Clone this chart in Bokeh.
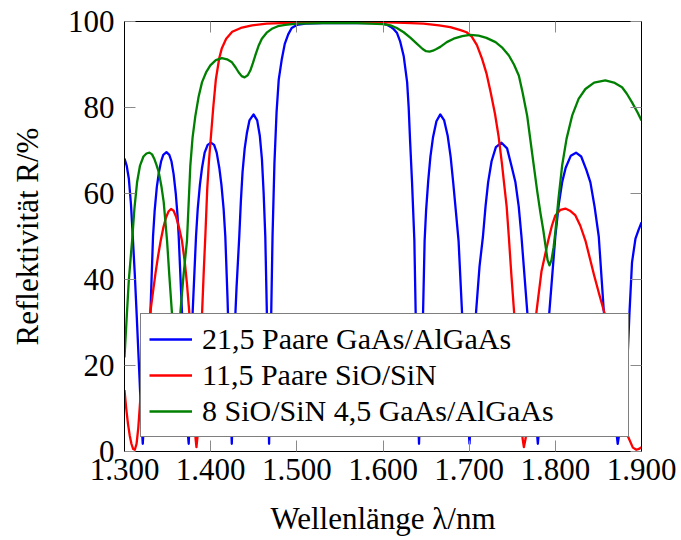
from bokeh.plotting import figure
from bokeh.models import LinearAxis, FixedTicker, Legend, LegendItem, Range1d
from bokeh.embed import file_html
from bokeh.resources import INLINE

# ---- data (wavelength nm, reflectivity %) ----
blue_pts = [(1300,68.1),(1302.5,66.5),(1305,63.5),(1307.5,57.5),(1309.6,50),(1312,41),(1314,32.4),(1317,19),(1319.5,7.5),(1321.2,1.8),(1323,8),(1326,20),(1330.1,32.4),(1333.1,50),(1335,56),(1337.5,61.5),(1340,65),(1342.5,67.5),(1345,69),(1348.7,69.6),(1352,69),(1354.5,67.5),(1357,64.5),(1359.5,60),(1361.5,55),(1362.9,50),(1366.7,32.4),(1370,17),(1373,5.5),(1374.5,1.8),(1376,9),(1377.5,20),(1379.1,32.4),(1383,50),(1385,56.5),(1387.5,62),(1390,66),(1393,69.5),(1396.5,71.3),(1400.3,71.8),(1404,71.3),(1407,69.5),(1410,66),(1412.5,62),(1415,56.5),(1417,50),(1419.5,36),(1422,19),(1423.5,8),(1424.5,1.8),(1425.8,10),(1427.8,28),(1430,38),(1433.2,50),(1435,58),(1437,65),(1439.5,70.5),(1442,74),(1445,77),(1449.8,78.4),(1454,77),(1457,73.5),(1459.5,68),(1461.5,60),(1463.4,50),(1465.2,32.4),(1466.8,12),(1467.8,1.8),(1468.8,12),(1470.3,32.4),(1471.8,50),(1474,67),(1476.5,79),(1479,86.5),(1482.6,91.3),(1486,94.8),(1490,97),(1494,98.5),(1500,99.2),(1510,99.5),(1530,99.6),(1560,99.6),(1590,99.6),(1600,99.5),(1605,99.2),(1608.6,98.8),(1612,98.3),(1616.3,97.3),(1620,95.3),(1624,92),(1628,85.9),(1629.8,80),(1631.5,72),(1633.7,62.6),(1636.4,49),(1637.9,32.4),(1640,12),(1641.8,1.8),(1643.5,12),(1646.5,32.4),(1648.3,49),(1650,56),(1652.5,63),(1655,68.5),(1658,73),(1662,76.8),(1666.5,78.4),(1671,77),(1675,73.5),(1678.5,68.5),(1681.5,62.5),(1684.5,56),(1687.7,49),(1691.7,32.4),(1696,16),(1700.4,1.8),(1704,16),(1708,32.4),(1712,43),(1716,50),(1719,57),(1722,62.6),(1726,67.5),(1731,70.8),(1737.5,71.8),(1744,70.5),(1749,66.5),(1753.7,62.6),(1757.5,57),(1760.7,50),(1767.3,32.8),(1774,16),(1779.7,1.8),(1786,16),(1793.2,32.8),(1800,50),(1804,57.5),(1807.9,62.6),(1812,66),(1818,68.8),(1824,69.5),(1830,68.6),(1836,65.5),(1840.7,62.6),(1845.5,57),(1850.4,50),(1856.2,32.8),(1864,17),(1872.4,1.8),(1878,9),(1883.2,18.8),(1886,32),(1889,44),(1893,49.5),(1896.5,51.5),(1900,53.3)]

red_pts = [(1300,14.3),(1302,10),(1304,6.5),(1306,3.8),(1308,1.8),(1310,0.6),(1312,0.4),(1314,1.8),(1316,5.5),(1318.5,12.6),(1321,17.5),(1324,23),(1327,28),(1330,32.4),(1333,37),(1336,41.5),(1339,45.5),(1342,49),(1345,52),(1348,54.3),(1351,55.8),(1354,56.4),(1357,56),(1360,54.5),(1363,52.3),(1366.7,49),(1370,44),(1372.5,39),(1375,32.8),(1378,23),(1380.5,12),(1382.5,3),(1383.5,1),(1385,4),(1387.5,18),(1390,32),(1392,42),(1394,51),(1396,61),(1398,67.5),(1400,72.5),(1403,80),(1406,86.5),(1410,91.5),(1413,93.8),(1418,96),(1425,97.6),(1435,98.5),(1448,99.1),(1465,99.5),(1490,99.7),(1550,99.8),(1605,99.8),(1625,99.7),(1647,99.5),(1665,99.1),(1678,98.7),(1690,98),(1697,97.5),(1703,96.5),(1709,94.5),(1715,91.3),(1720,88),(1725,83.5),(1730,78.5),(1734,73.5),(1738,67),(1741,61.5),(1743.5,57),(1746,50),(1749,41),(1752,32.8),(1756,20),(1759.5,9),(1762,3),(1763.5,1),(1765.5,3),(1768,8),(1772,17),(1777.8,32),(1784,42),(1791.7,49),(1796,52.5),(1800,54.9),(1806,56.2),(1811.7,56.5),(1817,56),(1823.3,54.9),(1829,52.5),(1835,49),(1840,45),(1845,41),(1851,36.5),(1858,31.5),(1866,22),(1875,11.5),(1880,6.5),(1884.7,3.3),(1890,0.9),(1894,0.4),(1897,0.6),(1900,1.0)]

green_pts = [(1300,21.9),(1302.5,31),(1305,39.8),(1308.8,49),(1311.5,56.5),(1314.6,62.6),(1318,66.5),(1322,68.6),(1325.5,69.3),(1329,69.5),(1332,69.1),(1334.5,68.1),(1337,66.7),(1339.7,65),(1343,61.5),(1345.5,58),(1349.4,49),(1352,41),(1355,32.4),(1357.5,20),(1360,11),(1362.5,18),(1364.9,32.4),(1368.5,41),(1372.5,49),(1376.4,66.5),(1379,73),(1382.2,78),(1386,82.5),(1390,85.9),(1395,88.3),(1399.6,89.8),(1406,91),(1413,91.5),(1419,91.2),(1424.7,90.5),(1429,89.3),(1432.4,88.2),(1436,87.3),(1439.4,87),(1443,87.5),(1446,88.6),(1449,90.3),(1451.8,92.1),(1455.5,94.3),(1459.4,96),(1465,97.4),(1471,98.3),(1478,98.9),(1486.5,99.2),(1500,99.5),(1530,99.6),(1570,99.6),(1600,99.4),(1608.6,99.1),(1616,98.5),(1624,97.5),(1632,96.2),(1639.5,94.8),(1646,93.6),(1650,93.1),(1654,93),(1658,93.2),(1662,93.6),(1666.5,94.1),(1674,95.2),(1682,96),(1692,96.6),(1701,96.9),(1711,96.7),(1720,96.2),(1730.6,95.2),(1738,94),(1746.1,92.1),(1752,90),(1757.7,87.4),(1762,83.5),(1767.3,78.1),(1771,72.5),(1775,66.5),(1779,60.5),(1782.7,55.5),(1786,51.5),(1788.5,48),(1791,44.5),(1793.2,43.3),(1795.5,44.5),(1798,47.5),(1800,51),(1803.5,58.5),(1807.9,66.5),(1813,72.7),(1819.5,78.1),(1827,82),(1834.9,84.3),(1845,85.8),(1858,86.3),(1868,85.8),(1877.4,84.7),(1883,83.2),(1889,81.2),(1895,79),(1900,77)]

blue_wl = [p[0] for p in blue_pts]
blue_r = [p[1] for p in blue_pts]
red_wl = [p[0] for p in red_pts]
red_r = [p[1] for p in red_pts]
green_wl = [p[0] for p in green_pts]
green_r = [p[1] for p in green_pts]

series_names = ["21,5 Paare GaAs/AlGaAs", "11,5 Paare SiO/SiN", "8 SiO/SiN 4,5 GaAs/AlGaAs"]
x_ticks = [1300, 1400, 1500, 1600, 1700, 1800, 1900]
x_tick_labels = ["1.300", "1.400", "1.500", "1.600", "1.700", "1.800", "1.900"]
y_ticks = [0, 20, 40, 60, 80, 100]
y_tick_labels = ["0", "20", "40", "60", "80", "100"]
x_label = "Wellenlänge λ/nm"
y_label = "Reflektivität R/%"

FONT = "Liberation Serif"
FS = "31px"
FS_LEG = "30px"

p = figure(width=681, height=540, output_backend="svg", toolbar_location=None,
           x_range=Range1d(1300, 1900), y_range=Range1d(0, 100),
           min_border_left=124, min_border_right=40, min_border_top=21, min_border_bottom=89)
p.xgrid.visible = False
p.ygrid.visible = False
p.outline_line_color = "black"
p.outline_line_width = 1
p.background_fill_color = "white"
p.border_fill_color = "white"

def style_axis(ax, ticks, labels, show_labels=True):
    ax.ticker = FixedTicker(ticks=ticks)
    if show_labels:
        ax.major_label_overrides = {t: l for t, l in zip(ticks, labels)}
        ax.major_label_text_font = FONT
        ax.major_label_text_font_size = FS
        ax.major_label_text_color = "black"
    else:
        ax.major_label_overrides = {t: "" for t in ticks}
        ax.major_label_text_font_size = "1px"
        ax.major_label_standoff = 0
    ax.major_tick_in = 11
    ax.major_tick_out = 0
    ax.major_tick_line_color = "#8a8a8a"
    ax.major_tick_line_width = 1
    ax.minor_tick_line_color = None
    ax.axis_line_color = "black"
    ax.axis_line_width = 1

xa = p.xaxis[0]
ya = p.yaxis[0]
style_axis(xa, x_ticks, x_tick_labels)
style_axis(ya, y_ticks, y_tick_labels)
xa.major_label_standoff = 7
ya.major_label_standoff = 10
xa.axis_label = x_label
ya.axis_label = y_label
for ax in (xa, ya):
    ax.axis_label_text_font = FONT
    ax.axis_label_text_font_size = FS
    ax.axis_label_text_font_style = "normal"
    ax.axis_label_text_color = "black"
xa.axis_label_standoff = 18
ya.axis_label_standoff = 20

top = LinearAxis()
style_axis(top, x_ticks, x_tick_labels, show_labels=False)
p.add_layout(top, "above")
right = LinearAxis()
style_axis(right, y_ticks, y_tick_labels, show_labels=False)
p.add_layout(right, "right")

lw = 2.3
rb = p.line(blue_wl, blue_r, line_color="#0000ff", line_width=lw, line_join="round")
rr = p.line(red_wl, red_r, line_color="#ff0000", line_width=lw, line_join="round")
rg = p.line(green_wl, green_r, line_color="#008000", line_width=lw, line_join="round")

legend = Legend(items=[LegendItem(label=series_names[0], renderers=[rb]),
                       LegendItem(label=series_names[1], renderers=[rr]),
                       LegendItem(label=series_names[2], renderers=[rg])],
                location=(16, 14))
legend.label_text_font = FONT
legend.label_text_font_size = FS_LEG
legend.label_text_color = "black"
legend.glyph_width = 43
legend.glyph_height = 32
legend.label_height = 32
legend.label_width = 418
legend.label_standoff = 10
legend.padding = 8
legend.spacing = 2
legend.margin = 0
legend.border_line_color = "black"
legend.border_line_width = 1
legend.background_fill_color = "white"
legend.background_fill_alpha = 1.0
p.add_layout(legend, "center")

open("out.html", "w").write(file_html(p, INLINE))
